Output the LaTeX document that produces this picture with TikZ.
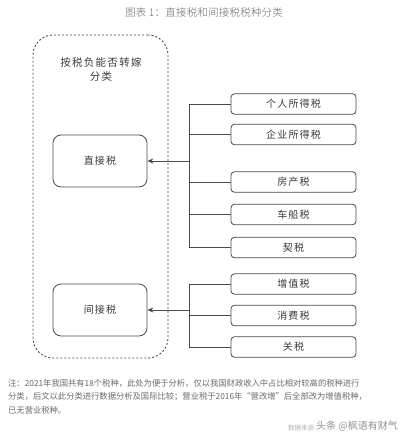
\documentclass[tikz,border=0pt]{standalone}
\usepackage{fontspec}
\setmainfont{Noto Sans CJK SC}
\newfontfamily\cjk{Noto Sans CJK SC}
\newfontfamily\cjkspaced[LetterSpace=12]{Noto Sans CJK SC}
\newfontfamily\cjklight[LetterSpace=2]{Noto Sans CJK SC Light}
\usetikzlibrary{arrows.meta}
\definecolor{linec}{HTML}{4A4A4A}
\definecolor{textc}{HTML}{3A3A3A}
\definecolor{notec}{HTML}{6A6A6A}
\tikzset{
  leaf/.style={draw=linec, line width=0.8pt, rounded corners=3.5pt, minimum width=125pt, minimum height=20.5pt, inner sep=0pt, font=\cjkspaced\fontsize{10}{12}\selectfont, text=textc},
  catbox/.style={draw=linec, line width=0.8pt, rounded corners=8pt, minimum width=94pt, minimum height=52pt, inner sep=0pt, font=\cjkspaced\fontsize{10}{12}\selectfont, text=textc},
  conn/.style={draw=linec, line width=0.8pt},
  arr/.style={conn, -{Stealth[length=6pt,width=5pt]}},
  notetext/.style={anchor=west, inner sep=0pt, font=\cjk\fontsize{8.3}{9}\selectfont, text=notec}
}
\begin{document}
\begin{tikzpicture}[x=1pt,y=-1pt]
\useasboundingbox[fill=white] (0,0) rectangle (405,440);
% title
\node[inner sep=0pt, font=\cjklight\fontsize{10.5}{12}\selectfont, text=notec] (title) at (204,13) {图表 1：直接税和间接税税种分类};
% dashed outer box
\node[draw=linec, line width=0.9pt, dash pattern=on 2pt off 2pt, rounded corners=20pt, minimum width=135pt, minimum height=323pt, inner sep=0pt] (outer) at (100.5,196.5) {};
\node[align=center, inner sep=0pt, font=\cjkspaced\fontsize{10.5}{14}\selectfont, text=textc] (lbl) at (101,69) {按税负能否转嫁\\分类};
% category boxes
\node[catbox] (direct) at (100,161) {直接税};
\node[catbox] (indirect) at (100,310) {间接税};
% leaf boxes
\node[leaf] (r1) at (293.5,104) {个人所得税};
\node[leaf] (r2) at (293.5,134.5) {企业所得税};
\node[leaf] (r3) at (293.5,182) {房产税};
\node[leaf] (r4) at (293.5,214.5) {车船税};
\node[leaf] (r5) at (293.5,247.5) {契税};
\node[leaf] (r6) at (293.5,284) {增值税};
\node[leaf] (r7) at (293.5,315.5) {消费税};
\node[leaf] (r8) at (293.5,347) {关税};
\coordinate (jx) at (189,0);
% connectors
\foreach \n in {r1,r2,r3,r4,r5,r6,r7,r8}{
  \draw[conn] (\n.west) -- (\n.west -| jx);
}
\draw[conn] (r1.west -| jx) -- (r5.west -| jx);
\draw[conn] (r6.west -| jx) -- (r8.west -| jx);
\draw[arr] (direct.east -| jx) -- (direct.east);
\draw[arr] (indirect.east -| jx) -- (indirect.east);
% footnote
\node[notetext] (n1) at (8,383) {注：2021年我国共有18个税种，此处为便于分析，仅以我国财政收入中占比相对较高的税种进行};
\node[notetext] (n2) at (8,396.5) {分类，后文以此分类进行数据分析及国际比较；营业税于2016年“营改增”后全部改为增值税种，};
\node[notetext] (n3) at (8,410) {已无营业税种。};
% watermark
\node[inner sep=0pt, anchor=west, font=\cjk\fontsize{6.5}{8}\selectfont, text=gray!60] (src) at (288,428) {数据来源};
\node[inner sep=0pt, anchor=west, font=\cjk\fontsize{10}{12}\selectfont, text=gray!85] (wm) at (316,426) {头条 @枫语有财气};
\end{tikzpicture}
\end{document}
